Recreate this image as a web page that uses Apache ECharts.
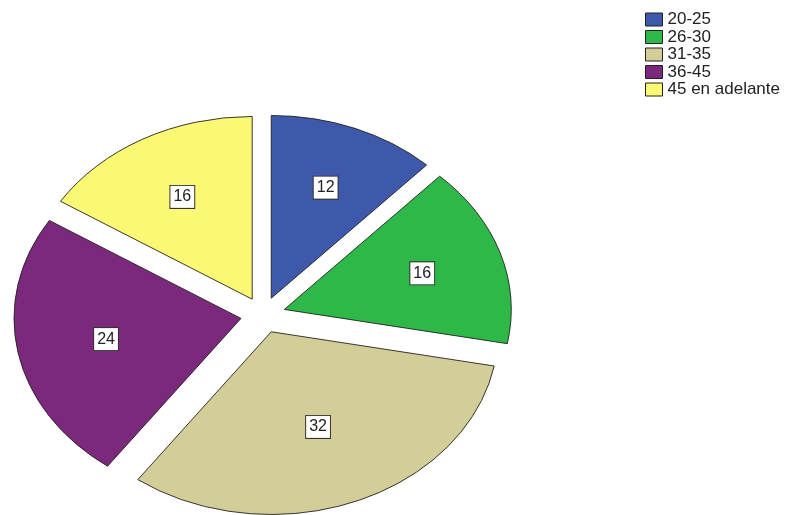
<!DOCTYPE html>
<html>
<head>
<meta charset="utf-8">
<script src="https://cdn.jsdelivr.net/npm/echarts@6/dist/echarts.min.js"></script>
<style>
  html, body { margin: 0; padding: 0; background: #fff; }
  #chart { width: 789px; height: 515px; }
</style>
</head>
<body>
<div id="chart"></div>
<script>
// Age groups and their counts
const categories = ['20-25', '26-30', '31-35', '36-45', '45 en adelante'];
const values = [12, 16, 32, 24, 16];
const colors = ['#3E58AC', '#2EB848', '#D3CE97', '#7C287D', '#FBF873'];

const TOTAL = values.reduce((a, b) => a + b, 0);
const EXPLODE = 22.4;   // distance each slice is pulled out from the centre
const SQUASH = 0.805;   // vertical flattening of the pie

// running start / end of every slice along the angle axis
const starts = [];
let acc = 0;
values.forEach(v => { starts.push(acc); acc += v; });

function renderSlice(params, api) {
  const cs = params.coordSys;
  const cx = cs.cx, cy = cs.cy, R = cs.r;
  const p0 = api.coord([1, api.value(1)]);
  const p1 = api.coord([1, api.value(2)]);
  let a0 = Math.atan2(p0[1] - cy, p0[0] - cx);
  let a1 = Math.atan2(p1[1] - cy, p1[0] - cx);
  if (a1 <= a0) a1 += Math.PI * 2;
  const mid = (a0 + a1) / 2;
  const half = (a1 - a0) / 2;
  const ox = EXPLODE * Math.cos(mid);
  const oy = EXPLODE * Math.sin(mid);
  // label sits on the centroid of the sector
  const c = (2 * R * Math.sin(half)) / (3 * half);
  return {
    type: 'group',
    children: [
      {
        type: 'sector',
        originX: cx,
        originY: cy,
        scaleY: SQUASH,
        shape: { cx: cx + ox, cy: cy + oy, r: R, r0: 0, startAngle: a0, endAngle: a1, clockwise: true },
        style: { fill: api.visual('color'), stroke: '#222', lineWidth: 1, strokeNoScale: true }
      },
      {
        type: 'text',
        x: cx + ox + c * Math.cos(mid),
        y: cy + (oy + c * Math.sin(mid)) * SQUASH,
        z2: 10,
        style: {
          text: String(api.value(3)),
          align: 'center',
          verticalAlign: 'middle',
          fill: '#222',
          font: '16px "Liberation Sans", Arial, sans-serif',
          backgroundColor: '#ffffff',
          borderColor: '#333',
          borderWidth: 1,
          padding: [3, 3, 3, 3]
        }
      }
    ]
  };
}

const series = categories.map((name, i) => ({
  type: 'custom',
  name: name,
  coordinateSystem: 'polar',
  itemStyle: { color: colors[i] },
  renderItem: renderSlice,
  data: [[1, starts[i], starts[i] + values[i], values[i]]],
  silent: true
}));

const chart = echarts.init(document.getElementById('chart'), null, { renderer: 'canvas' });
chart.setOption({
  animation: false,
  backgroundColor: '#ffffff',
  polar: { center: [263, 315], radius: 227 },
  angleAxis: { type: 'value', min: 0, max: TOTAL, startAngle: 90, clockwise: true, show: false },
  radiusAxis: { type: 'value', min: 0, max: 1, show: false },
  legend: {
    data: categories,
    orient: 'vertical',
    left: 645,
    top: 11,
    padding: 0,
    icon: 'rect',
    itemWidth: 17,
    itemHeight: 13,
    itemGap: 0.5,
    selectedMode: false,
    itemStyle: { borderColor: '#222', borderWidth: 1 },
    textStyle: { fontSize: 17, color: '#222', fontFamily: '"Liberation Sans", Arial, sans-serif' }
  },
  series: series
});
</script>
</body>
</html>
